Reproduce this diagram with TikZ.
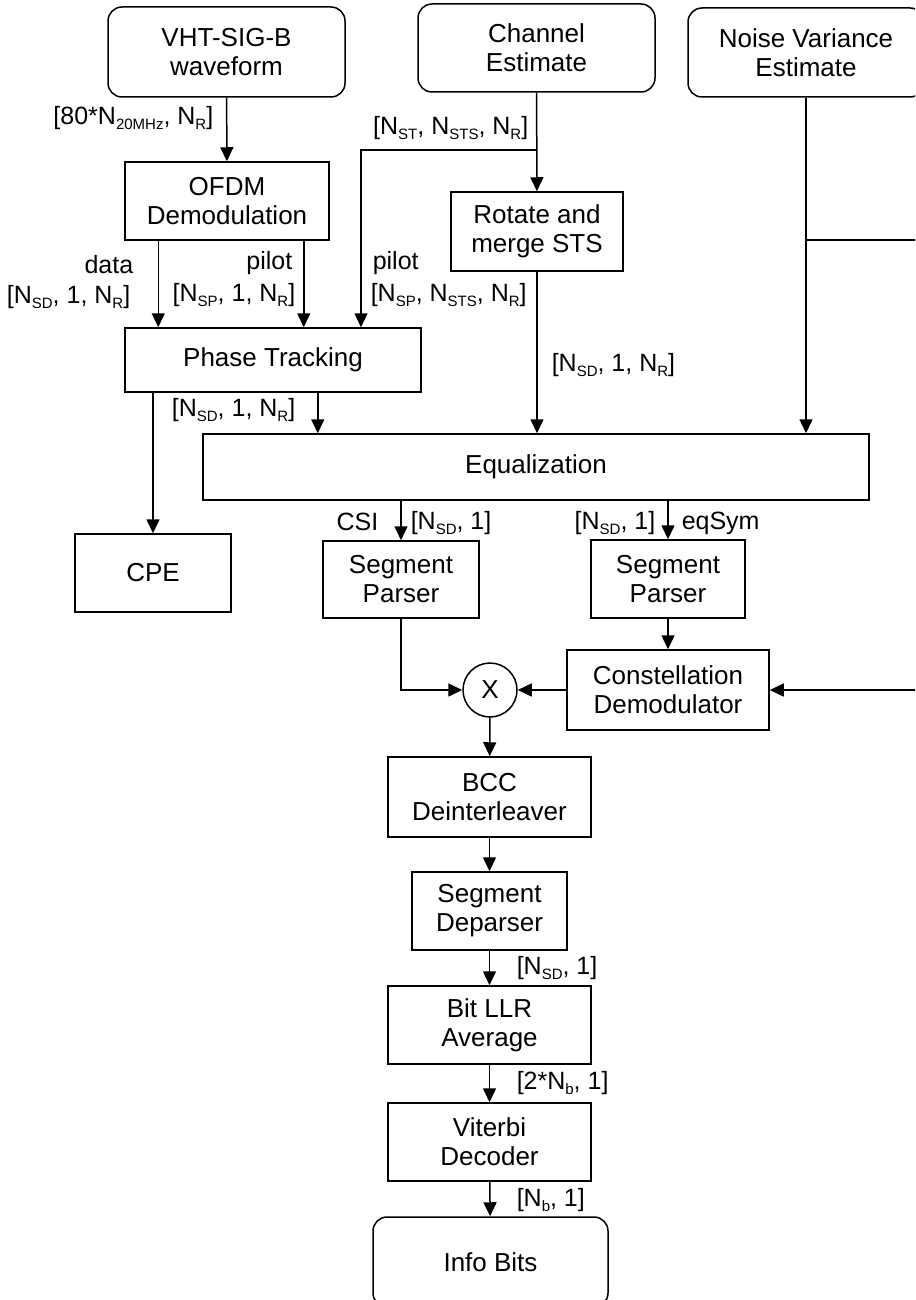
\documentclass[tikz,border=0pt]{standalone}
\usepackage{fontspec}
\setmainfont{Liberation Sans}
\usetikzlibrary{arrows.meta}
\newcommand{\lowsub}[1]{\raisebox{-0.4ex}{\fontsize{7.5}{8}\selectfont #1}}

\begin{document}
\begin{tikzpicture}[x=0.5pt,y=-0.5pt,line width=0.75pt,
  >={Triangle[width=6.5pt,length=7pt]},
  blk/.style={draw,align=center,inner sep=0pt,font=\fontsize{13}{14.5}\selectfont},
  rblk/.style={blk,rounded corners=7pt},
  lbl/.style={inner sep=0pt,font=\fontsize{12.5}{14}\selectfont}]
\useasboundingbox (0,0) rectangle (915,1300);
\clip (0,0) rectangle (915,1300);

\node[rblk,minimum width=118.5pt,minimum height=45pt] (vht) at (226.5,52) {VHT-SIG-B\\waveform};
\node[rblk,minimum width=118.5pt,minimum height=44pt] (chan) at (536.5,48) {Channel\\Estimate};
\node[rblk,minimum width=118pt,minimum height=44.5pt] (noise) at (806,52.5) {Noise Variance\\Estimate};

\node[blk,minimum width=102pt,minimum height=39pt] (ofdm) at (227,201) {OFDM\\Demodulation};
\node[blk,minimum width=86pt,minimum height=39.5pt] (rot) at (537,231.5) {Rotate and\\merge STS};
\node[blk,minimum width=148pt,minimum height=32pt] (phase) at (273,360) {Phase Tracking};
\node[blk,minimum width=333pt,minimum height=33pt] (eq) at (536,467) {Equalization};
\node[blk,minimum width=78pt,minimum height=39pt] (cpe) at (153,573) {CPE};
\node[blk,minimum width=78pt,minimum height=38.5pt] (lsp) at (401,579.5) {Segment\\Parser};
\node[blk,minimum width=77pt,minimum height=39pt] (rsp) at (668,579) {Segment\\Parser};
\node[blk,minimum width=101pt,minimum height=40pt] (const) at (668,690) {Constellation\\Demodulator};
\node[blk,circle,minimum size=27pt] (mult) at (490,690) {X};
\node[blk,minimum width=101.5pt,minimum height=40pt] (bcc) at (489.5,797) {BCC\\Deinterleaver};
\node[blk,minimum width=77.5pt,minimum height=39pt] (dep) at (489.5,911) {Segment\\Deparser};
\node[blk,minimum width=101.5pt,minimum height=39pt] (llr) at (489.5,1025) {Bit LLR\\Average};
\node[blk,minimum width=101.5pt,minimum height=39pt] (vit) at (489.5,1142) {Viterbi\\Decoder};
\node[rblk,minimum width=117.5pt,minimum height=45pt] (info) at (490.5,1262) {Info Bits};

\coordinate (csplit) at (536.5,150);
\coordinate (cpilot) at (361,150);
\coordinate (nsplit) at (806,240);

\draw[->] (vht) -- (ofdm);
\draw[->] ([xshift=17pt]ofdm.south west) -- ([xshift=17pt]ofdm.south west |- phase.north);
\draw[->] ([xshift=-13pt]ofdm.south east) -- ([xshift=-13pt]ofdm.south east |- phase.north);
\draw[->] (chan) -- (rot);
\draw[->] (csplit) -- (cpilot) -- (cpilot |- phase.north);
\draw[->] (rot) -- (rot |- eq.north);
\draw[->] (noise) -- (noise |- eq.north);
\draw[->] (nsplit) -- ++(140,0) |- (const);
\draw[->] ([xshift=-52pt]phase.south east) -- ([xshift=-52pt]phase.south east |- eq.north);
\draw[->] (cpe |- phase.south) -- (cpe);
\draw[->] (lsp |- eq.south) -- (lsp);
\draw[->] (rsp |- eq.south) -- (rsp);
\draw[->] (rsp) -- (const);
\draw[->] (lsp) |- (mult);
\draw[->] (const) -- (mult);
\draw[->] (mult) -- (bcc);
\draw[->] (bcc) -- (dep);
\draw[->] (dep) -- (llr);
\draw[->] (llr) -- (vit);
\draw[->] (vit) -- (info);

\node[lbl,anchor=east] (lwave) at (214,118) {[80*N\lowsub{20MHz}, N\lowsub{R}]};
\node[lbl,anchor=east] (lchan) at (529,128) {[N\lowsub{ST}, N\lowsub{STS}, N\lowsub{R}]};
\node[lbl,anchor=east] (ldata) at (134,265) {data};
\node[lbl,anchor=east] (ldatad) at (131,297) {[N\lowsub{SD}, 1, N\lowsub{R}]};
\node[lbl,anchor=east] (lpilot) at (293,263) {pilot};
\node[lbl,anchor=east] (lpilotd) at (296,295) {[N\lowsub{SP}, 1, N\lowsub{R}]};
\node[lbl,anchor=west] (lcpilot) at (372,263) {pilot};
\node[lbl,anchor=west] (lcpilotd) at (370,295) {[N\lowsub{SP}, N\lowsub{STS}, N\lowsub{R}]};
\node[lbl,anchor=west] (lrot) at (551,365) {[N\lowsub{SD}, 1, N\lowsub{R}]};
\node[lbl,anchor=east] (lphase) at (296,410) {[N\lowsub{SD}, 1, N\lowsub{R}]};
\node[lbl,anchor=east] (lcsi) at (379,522) {CSI};
\node[lbl,anchor=west] (lcsid) at (410,523) {[N\lowsub{SD}, 1]};
\node[lbl,anchor=east] (lsymd) at (656,523) {[N\lowsub{SD}, 1]};
\node[lbl,anchor=west] (lsym) at (681,523) {eqSym};
\node[lbl,anchor=west] (ldep) at (516,968) {[N\lowsub{SD}, 1]};
\node[lbl,anchor=west] (lllr) at (516,1083) {[2*N\lowsub{b}, 1]};
\node[lbl,anchor=west] (lvit) at (516,1200) {[N\lowsub{b}, 1]};
\end{tikzpicture}
\end{document}
